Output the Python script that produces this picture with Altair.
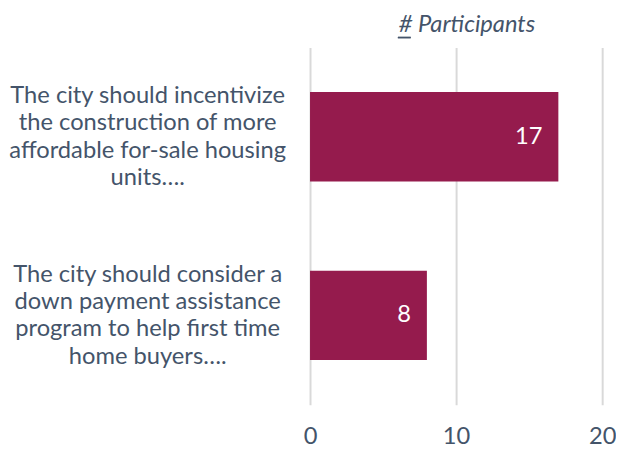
import altair as alt
import pandas as pd

categories = [
    "The city should incentivize|the construction of more|affordable for-sale housing|units….",
    "The city should consider a|down payment assistance|program to help first time|home buyers….",
]
participants = [17, 8]
x_ticks = [0, 10, 20]

df = pd.DataFrame({"statement": categories, "participants": participants})

TEXT = "#44546A"
BAR = "#951B4D"
FS = 24

base = alt.Chart(df).encode(
    y=alt.Y(
        "statement:N",
        sort=categories,
        title=None,
        scale=alt.Scale(paddingInner=0.5, paddingOuter=0.25),
        axis=alt.Axis(
            labelExpr="split(datum.label, '|')",
            labelAlign="center",
            labelBaseline="middle",
            labelPadding=165,
            labelOffset=-41,
            labelFont="Lato",
            labelFontSize=FS,
            labelColor=TEXT,
            labelLineHeight=27.7,
            labelLimit=400,
            ticks=False,
            domain=False,
            grid=False,
        ),
    ),
)

bars = base.mark_bar(color=BAR).encode(
    x=alt.X(
        "participants:Q",
        title=None,
        scale=alt.Scale(domain=[0, 20], nice=False),
        axis=alt.Axis(
            values=x_ticks,
            labelFont="Lato",
            labelFontSize=FS,
            labelColor=TEXT,
            labelPadding=20,
            labelFlush=False,
            ticks=False,
            domain=False,
            grid=True,
            gridColor="#D9D9D9",
            gridWidth=2,
        ),
    ),
)

labels = base.mark_text(
    align="right", baseline="middle", dx=-16, color="white", font="Lato", fontSize=FS
).encode(x="participants:Q", text="participants:Q")

underline = alt.Chart(df).mark_rule(color=TEXT, strokeWidth=1.5).encode(
    x=alt.value(89), x2=alt.value(102), y=alt.value(-10)
)

chart = (
    alt.layer(bars, labels, underline)
    .properties(
        width=296,
        height=362,
        autosize=alt.AutoSizeParams(type="none"),
        padding={"left": 306, "top": 37, "right": 14, "bottom": 45},
        title=alt.TitleParams(
            "# Participants",
            font="Lato",
            fontSize=FS,
            fontStyle="italic",
            fontWeight="normal",
            color=TEXT,
            anchor="middle",
            offset=0,
            dx=11,
        ),
    )
    .configure(background="white")
    .configure_view(stroke=None)
)

chart.save("out.html", embed_options={"renderer": "svg", "actions": False})
